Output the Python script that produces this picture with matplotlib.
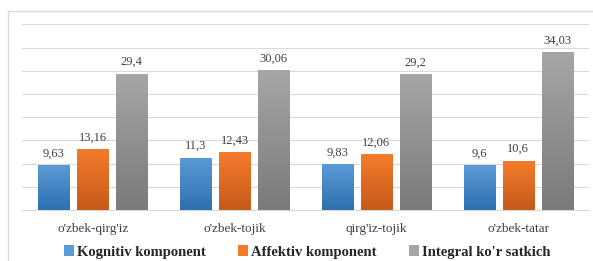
import numpy as np
import matplotlib
matplotlib.use("Agg")
import matplotlib.pyplot as plt
from matplotlib.colors import LinearSegmentedColormap
from matplotlib.patches import Rectangle

categories = ["o'zbek-qirg'iz", "o'zbek-tojik", "qirg'iz-tojik", "o'zbek-tatar"]
kognitiv = [9.63, 11.3, 9.83, 9.6]
affektiv = [13.16, 12.43, 12.06, 10.6]
integral = [29.4, 30.06, 29.2, 34.03]
series_names = ["Kognitiv komponent", "Affektiv komponent", "Integral ko'r satkich"]
labels = [["9,63", "11,3", "9,83", "9,6"],
          ["13,16", "12,43", "12,06", "10,6"],
          ["29,4", "30,06", "29,2", "34,03"]]

# top colour, bottom colour for each series
grads = [("#5B9BD5", "#2E70B0"), ("#F57B2B", "#C55A1B"), ("#A6A6A6", "#7A7A7A")]

plt.rcParams['font.family'] = ['Liberation Serif', 'DejaVu Serif']

fig = plt.figure(figsize=(5.93, 2.61), dpi=100)
ax = fig.add_axes([22/593, 1-210/261, 567/593, (210-24.3)/261])

# light outer frame of the chart area
fig.patches.append(Rectangle((8/593, -0.1), 1.2, 1-11/261+0.1, transform=fig.transFigure,
                             fill=False, edgecolor="#D9D9D9", linewidth=1.0, zorder=0))

x = np.arange(len(categories))
w = 0.22
offs = [-0.275, 0, 0.275]
data = [kognitiv, affektiv, integral]

for i, vals in enumerate(data):
    bars = ax.bar(x + offs[i], vals, width=w, color=grads[i][0], zorder=2)
    cmap = LinearSegmentedColormap.from_list("g%d" % i, [grads[i][1], grads[i][0]])
    grad = np.linspace(0, 1, 100).reshape(-1, 1)
    for b, lab in zip(bars, labels[i]):
        x0, y0 = b.get_x(), b.get_y()
        im = ax.imshow(grad, cmap=cmap, origin="lower", aspect="auto",
                       extent=[x0, x0 + b.get_width(), y0, y0 + b.get_height()], zorder=3)
        im.set_clip_path(b)
        ax.annotate(lab, (x0 + b.get_width()/2, b.get_height()), xytext=(0, 4),
                    textcoords="offset points", ha="center", va="bottom",
                    fontsize=9, color="#404040")
    # legend handle
    ax.bar([0], [0], color=grads[i][0], label=series_names[i])

ax.set_xlim(-0.5, 3.5)
ax.set_ylim(0, 40)
ax.set_yticks(np.arange(0, 41, 5))
ax.yaxis.grid(True, color="#D9D9D9", linewidth=0.8, zorder=0)
ax.set_axisbelow(True)
ax.tick_params(left=False, labelleft=False, bottom=False)
ax.set_xticks(x)
ax.set_xticklabels(categories, fontsize=9.5, color="#404040")
ax.tick_params(axis="x", pad=6)
for s in ["top", "right", "left"]:
    ax.spines[s].set_visible(False)
ax.spines["bottom"].set_color("#D9D9D9")

leg = fig.legend(loc="center", bbox_to_anchor=(307/593, 1-252/261), ncol=3, frameon=False,
                 prop={"size": 10.5, "weight": "bold"}, handlelength=0.7, handleheight=0.7,
                 handletextpad=0.2, columnspacing=2.2)
for t in leg.get_texts():
    t.set_color("#262626")

fig.savefig("out.png", dpi=100)
